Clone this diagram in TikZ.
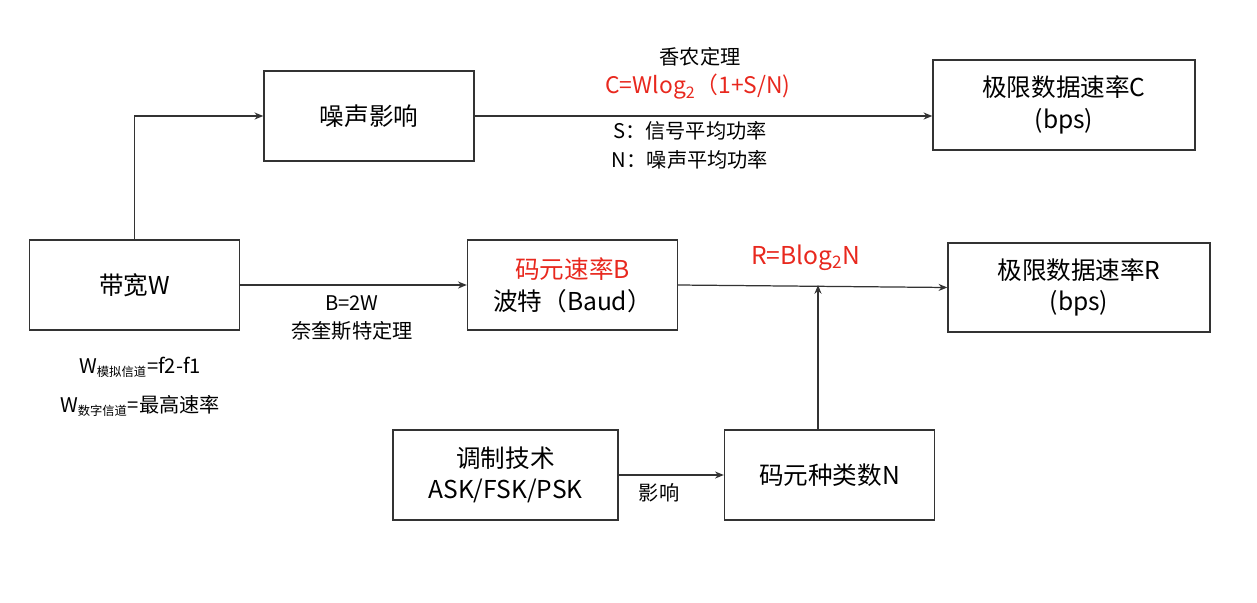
\documentclass[tikz,border=0pt]{standalone}
\usepackage{fontspec}
\setmainfont{Noto Sans CJK SC}
\usetikzlibrary{arrows.meta}
\definecolor{rd}{RGB}{232,40,30}
\begin{document}
\begin{tikzpicture}[x=0.02cm,y=-0.02cm,
 box/.style={draw=black!80,line width=0.8pt,minimum width=4.2cm,minimum height=1.8cm,align=center,font=\fontsize{14}{18}\selectfont,inner sep=0pt},
 arr/.style={draw=black!80,line width=0.7pt,-{Stealth[length=5pt,width=4pt]}},
 lab/.style={font=\fontsize{11.5}{14}\selectfont,inner sep=0pt}]
\useasboundingbox (0,0) rectangle (1257,602);
\node[box] (noise) at (369,116) {噪声影响};
\node[box,minimum width=5.24cm] (C) at (1064,105) {极限数据速率C\\(bps)};
\node[box] (W) at (134.5,285) {带宽W};
\node[box] (B) at (572.5,285) {\textcolor{rd}{码元速率B}\\波特（Baud）};
\node[box,minimum width=5.24cm,minimum height=1.78cm] (R) at (1079,287.5) {极限数据速率R\\(bps)};
\node[box,minimum width=4.5cm] (mod) at (505.5,475) {调制技术\\ASK/FSK/PSK};
\node[box] (N) at (829.5,475) {码元种类数N};
\draw[arr] (W.north) |- (noise.west);
\draw[arr] (noise.east) -- (C.west|-noise.east);
\draw[arr] (W.east) -- (B.west);
\draw[arr] (B.east) -- (R.west);
\draw[arr] (mod.east) -- (N.west);
\coordinate (Nt) at (818,285);
\draw[arr] (N.north-|Nt) -- (Nt);
\node[lab] (t1) at (700,57) {香农定理};
\node[lab,text=rd,font=\fontsize{13}{16}\selectfont] (t2) at (698,87) {C=Wlog\textsubscript{2}（1+S/N)};
\node[lab] (t3) at (690,131) {S：信号平均功率};
\node[lab] (t4) at (690,160) {N：噪声平均功率};
\node[lab] (t5) at (352,303) {B=2W};
\node[lab] (t6) at (352,331) {奈奎斯特定理};
\node[lab,text=rd,font=\fontsize{14}{16}\selectfont] (t7) at (806,258) {R=Blog\textsubscript{2}N};
\node[lab] (t8) at (140,367) {W\textsubscript{\fontsize{7}{8}\selectfont 模拟信道}=f2-f1};
\node[lab] (t9) at (140,406) {W\textsubscript{\fontsize{7}{8}\selectfont 数字信道}=最高速率};
\node[lab] (t10) at (659,493) {影响};
\end{tikzpicture}
\end{document}
